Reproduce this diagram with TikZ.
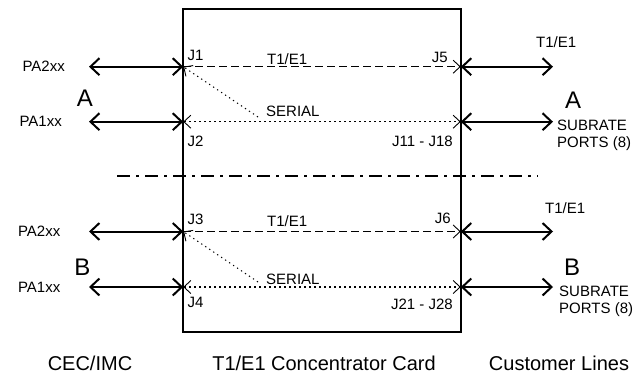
\documentclass[tikz,border=0pt]{standalone}
\usepackage{fontspec}
\setmainfont{Liberation Sans}
\usetikzlibrary{arrows.meta}
\begin{document}
\begin{tikzpicture}[x=1bp,y=-1bp,
  lbl/.style={font=\fontsize{15bp}{17bp}\selectfont, inner sep=0pt},
  biglbl/.style={font=\fontsize{24bp}{26bp}\selectfont, inner sep=0pt},
  caption/.style={font=\fontsize{20bp}{22bp}\selectfont, inner sep=0pt},
  bigtip/.tip={Straight Barb[length=9bp,width=17bp,line width=2bp]},
  smalltip/.tip={Straight Barb[length=7bp,width=13bp,line width=0.9bp]},
  link/.style={line width=2bp, bigtip-bigtip},
  tdm/.style={line width=1.4bp, dash pattern=on 8bp off 4bp, -smalltip},
  ser/.style={line width=1.4bp, dash pattern=on 2bp off 3bp, smalltip-smalltip},
  xover/.style={line width=1bp, dash pattern=on 1.3bp off 3.5bp, -smalltip},
  divider/.style={line width=1.6bp, dash pattern=on 13bp off 6bp on 3bp off 6bp}
]
\useasboundingbox (0,0) rectangle (639,377);

% concentrator card
\node[draw, line width=2bp, minimum width=277.6bp, minimum height=323bp,
      inner sep=0pt] (card) at (322,170.5) {};

% port junctions on the card edges
\coordinate (j1) at (183.2,66.7);
\coordinate (j2) at (183.2,121.7);
\coordinate (j3) at (183.2,231.5);
\coordinate (j4) at (183.2,287);
\coordinate (j5) at (460.8,66.7);
\coordinate (j11) at (460.8,121.7);
\coordinate (j6) at (460.8,231.5);
\coordinate (j21) at (460.8,287);

% outer ends of the external links
\coordinate (la1) at (89,66.7);
\coordinate (la2) at (89,121.7);
\coordinate (lb1) at (89,231.5);
\coordinate (lb2) at (89,287);
\coordinate (ra1) at (553,66.7);
\coordinate (ra2) at (553,121.7);
\coordinate (rb1) at (553,231.5);
\coordinate (rb2) at (553,287);

% start points of the cross-over paths
\coordinate (xa) at (258,117);
\coordinate (xb) at (258,282);

% divider between the A and B halves
\coordinate (divL) at (117,176);
\coordinate (divR) at (538,176);
\draw[divider] (divL) -- (divR);

% external links
\draw[link] (la1) -- (j1);
\draw[link] (la2) -- (j2);
\draw[link] (lb1) -- (j3);
\draw[link] (lb2) -- (j4);
\draw[link] (j5) -- (ra1);
\draw[link] (j11) -- (ra2);
\draw[link] (j6) -- (rb1);
\draw[link] (j21) -- (rb2);

% internal paths
\draw[tdm] (j1) -- (j5);
\draw[ser] (j2) -- (j11);
\draw[xover] (xa) -- (j1);
\draw[tdm] (j3) -- (j6);
\draw[ser] (j4) -- (j21);
\draw[xover] (xb) -- (j3);

% left side labels
\node[lbl, anchor=east] (pa2a) at (65,66.7) {PA2xx};
\node[lbl, anchor=east] (pa1a) at (62,121.7) {PA1xx};
\node[biglbl] (sideA) at (85,98.5) {A};
\node[lbl, anchor=east] (pa2b) at (60.5,231.5) {PA2xx};
\node[lbl, anchor=east] (pa1b) at (60.5,287) {PA1xx};
\node[biglbl] (sideB) at (82.5,267) {B};

% connector labels inside the card
\node[lbl, anchor=base west] (lj1) at (187.5,60.5) {J1};
\node[lbl, anchor=base west] (lj2) at (187.5,146) {J2};
\node[lbl, anchor=base west] (lj3) at (187.5,224) {J3};
\node[lbl, anchor=base west] (lj4) at (187.5,307) {J4};
\node[lbl, anchor=base east] (lj5) at (448,62) {J5};
\node[lbl, anchor=base east] (lj11) at (453,146) {J11 - J18};
\node[lbl, anchor=base east] (lj6) at (451,223) {J6};
\node[lbl, anchor=base east] (lj21) at (453,309) {J21 - J28};
\node[lbl, anchor=base west] (ta) at (267,64) {T1/E1};
\node[lbl, anchor=base west] (sa) at (266,116) {SERIAL};
\node[lbl, anchor=base west] (tb) at (267,226) {T1/E1};
\node[lbl, anchor=base west] (sb) at (266,284) {SERIAL};

% right side labels
\node[lbl, anchor=base west] (rta) at (536,47) {T1/E1};
\node[biglbl, anchor=base] (rsideA) at (573,108) {A};
\node[lbl, anchor=base west, align=left] (subA) at (557,147)
  {SUBRATE\\[-0.5bp]PORTS (8)};
\node[lbl, anchor=base west] (rtb) at (545,213) {T1/E1};
\node[biglbl, anchor=base] (rsideB) at (572,275) {B};
\node[lbl, anchor=base west, align=left] (subB) at (559,313)
  {SUBRATE\\[-0.5bp]PORTS (8)};

% column captions
\node[caption] (capL) at (90,363) {CEC/IMC};
\node[caption] (capM) at (324,363) {T1/E1 Concentrator Card};
\node[caption] (capR) at (559,363) {Customer Lines};
\end{tikzpicture}
\end{document}
